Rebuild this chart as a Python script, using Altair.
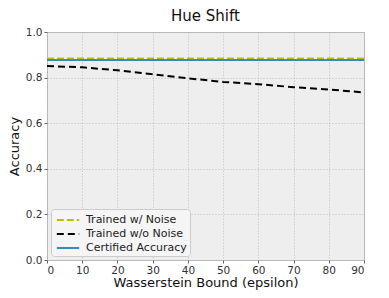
import altair as alt
import pandas as pd

eps = [0, 10, 20, 30, 40, 50, 60, 70, 80, 90]
trained_noise = [0.884, 0.884, 0.884, 0.884, 0.884, 0.884, 0.884, 0.884, 0.884, 0.884]
trained_no_noise = [0.851, 0.845, 0.832, 0.815, 0.797, 0.781, 0.771, 0.758, 0.748, 0.735]
certified = [0.877, 0.877, 0.877, 0.877, 0.877, 0.877, 0.877, 0.877, 0.877, 0.877]

series = ["Trained w/ Noise", "Trained w/o Noise", "Certified Accuracy"]
colors = ["#bfbf00", "#000000", "#348ABD"]
dashes = [[7, 3], [7, 4], [1, 0]]

rows = []
for name, vals in zip(series, [trained_noise, trained_no_noise, certified]):
    for e, v in zip(eps, vals):
        rows.append({"eps": e, "acc": v, "series": name})
df = pd.DataFrame(rows)

font = "DejaVu Sans"

axis_common = dict(labelFontSize=10.5, titleFontSize=13, titleFont=font, labelFont=font,
                   tickSize=3, labelPadding=2, gridColor="#b0b0b0", gridDash=[1, 2],
                   domain=False, labelColor="#333333", titleColor="#111111",
                   tickColor="#666666", titleFontWeight="normal")

chart = alt.Chart(df).mark_line(strokeWidth=2).encode(
    x=alt.X("eps:Q", title="Wasserstein Bound (epsilon)",
            scale=alt.Scale(domain=[0, 90], nice=False),
            axis=alt.Axis(values=eps, titlePadding=1, **axis_common)),
    y=alt.Y("acc:Q", title="Accuracy",
            scale=alt.Scale(domain=[0, 1], nice=False),
            axis=alt.Axis(values=[0, 0.2, 0.4, 0.6, 0.8, 1.0], format=".1f",
                          titlePadding=4, **axis_common)),
    color=alt.Color("series:N", scale=alt.Scale(domain=series, range=colors),
                    legend=alt.Legend(title=None, orient="bottom-left", offset=4,
                                      fillColor="#f5f5f5", strokeColor="#cccccc",
                                      padding=3, cornerRadius=3,
                                      labelFont=font, labelFontSize=11,
                                      symbolType="M-1.6,0H1.6", symbolSize=196,
                                      symbolOffset=6, labelOffset=10,
                                      symbolStrokeWidth=2, rowPadding=1,
                                      labelColor="#222222")),
    strokeDash=alt.StrokeDash("series:N", scale=alt.Scale(domain=series, range=dashes),
                              legend=None),
    order=alt.Order("eps:Q"),
).properties(
    width=372, height=282,
    autosize=alt.AutoSizeParams(type="fit", contains="padding"),
    padding={"left": 0, "top": 1, "right": 12, "bottom": 0},
    title=alt.Title("Hue Shift", fontSize=15, font=font, fontWeight="normal", color="#111111", offset=3),
).configure_view(
    fill="#eeeeee", stroke="#bcbcbc", strokeWidth=1
).configure_axis(
    gridOpacity=1, gridWidth=0.8
)

chart.save("out.html", embed_options={"renderer": "svg", "actions": False})
